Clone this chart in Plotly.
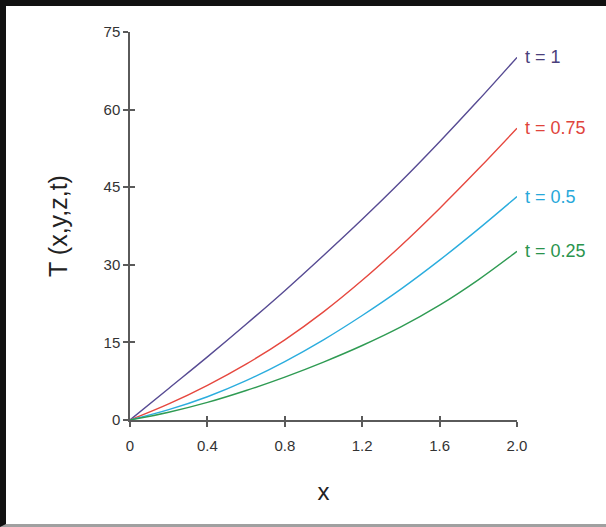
import plotly.graph_objects as go

# ---- data ----
x_vals = [0.0, 0.2, 0.4, 0.6, 0.8, 1.0, 1.2, 1.4, 1.6, 1.8, 2.0]
T_t1 = [0.0, 6.1, 12.2, 18.5, 25.0, 31.8, 38.8, 46.1, 53.8, 61.8, 70.1]
T_t075 = [0.0, 3.1, 6.7, 10.8, 15.5, 20.9, 27.0, 33.7, 40.9, 48.5, 56.4]
T_t05 = [0.0, 2.0, 4.5, 7.6, 11.3, 15.5, 20.2, 25.3, 30.9, 36.9, 43.2]
T_t025 = [0.0, 1.5, 3.4, 5.7, 8.3, 11.2, 14.4, 18.0, 22.2, 27.1, 32.6]
series_names = ["t = 1", "t = 0.75", "t = 0.5", "t = 0.25"]
series_values = [T_t1, T_t075, T_t05, T_t025]
x_tick_vals = [0, 0.4, 0.8, 1.2, 1.6, 2.0]
x_tick_text = ["0", "0.4", "0.8", "1.2", "1.6", "2.0"]
y_tick_vals = [0, 15, 30, 45, 60, 75]

line_colors = ["#574b93", "#e6483f", "#2badde", "#2f9b53"]
label_colors = ["#4a3f7c", "#e0443b", "#27a8da", "#2a944d"]

W, H = 606, 527
ML, MR, MT, MB = 130, 89, 32, 107

FONT = "Liberation Sans, Arial, sans-serif"

fig = go.Figure()
for name, vals, c in zip(series_names, series_values, line_colors):
    fig.add_trace(go.Scatter(x=x_vals, y=vals, mode="lines", name=name,
                             line=dict(color=c, width=1.4, shape="spline", smoothing=1.0),
                             showlegend=False, hoverinfo="skip"))
# helper trace on the overlay axes (for crossing ticks)
fig.add_trace(go.Scatter(x=[0], y=[0], xaxis="x2", yaxis="y2", mode="markers",
                         marker=dict(opacity=0), showlegend=False, hoverinfo="skip"))

for name, vals, c in zip(series_names, series_values, label_colors):
    fig.add_annotation(x=x_vals[-1], y=vals[-1], text=name, showarrow=False,
                       xanchor="left", yanchor="middle", xshift=6,
                       font=dict(size=18, color=c, family=FONT))

axis_col = "#5a5a5a"
common = dict(showgrid=False, zeroline=False, linecolor=axis_col, linewidth=1.5,
              tickcolor=axis_col, tickwidth=1.5)

fig.update_layout(
    width=W, height=H,
    margin=dict(l=ML, r=MR, t=MT, b=MB, autoexpand=False),
    paper_bgcolor="rgba(0,0,0,0)", plot_bgcolor="rgba(0,0,0,0)",
    font=dict(family=FONT, color="#333333"),
    xaxis=dict(range=[0, 2.0], tickvals=x_tick_vals, ticktext=x_tick_text,
               ticks="outside", ticklen=5, showline=True,
               tickfont=dict(size=15, color="#333333"),
               ticklabelstandoff=6,
               title=dict(text="x", font=dict(size=24, color="#222222"), standoff=30),
               **common),
    yaxis=dict(range=[0, 75], tickvals=y_tick_vals,
               ticks="outside", ticklen=5, showline=True,
               tickfont=dict(size=15, color="#333333"),
               title=dict(text="T (x,y,z,t)", font=dict(size=25, color="#222222"), standoff=29),
               **common),
    xaxis2=dict(range=[0, 2.0], tickvals=x_tick_vals, overlaying="x", anchor="y2",
                ticks="inside", ticklen=4, showticklabels=False, showline=False,
                showgrid=False, zeroline=False, tickcolor=axis_col, tickwidth=1.5),
    yaxis2=dict(range=[0, 75], tickvals=y_tick_vals, overlaying="y", anchor="x2",
                ticks="inside", ticklen=5, showticklabels=False, showline=False,
                showgrid=False, zeroline=False, tickcolor=axis_col, tickwidth=1.5),
)

# page frame of the original picture: black top/left edges, thin grey bottom rule
frame_js = (
    "document.documentElement.style.margin='0';"
    "document.documentElement.style.padding='0';"
    "document.body.style.margin='0';"
    "document.body.style.padding='0';"
    "document.body.style.overflow='hidden';"
    "document.body.style.background='white';"
    "var f=document.createElement('div');"
    "f.style.cssText='position:fixed;left:0;top:0;width:606px;height:527px;"
    "box-sizing:border-box;border-top:6px solid #111;border-left:6px solid #111;"
    "border-bottom:3px solid #a0a0a0;pointer-events:none;z-index:1000;';"
    "document.body.appendChild(f);"
)

fig.write_html("out.html", config={"displayModeBar": False}, post_script=frame_js)
